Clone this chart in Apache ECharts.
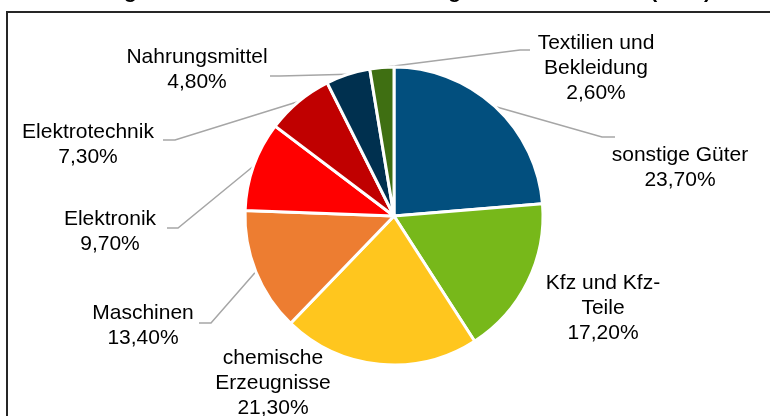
<!DOCTYPE html>
<html>
<head>
<meta charset="utf-8">
<script src="https://cdn.jsdelivr.net/npm/echarts@6/dist/echarts.min.js"></script>
<style>
html,body{margin:0;padding:0;background:#fff;}
#main{width:770px;height:416px;}
</style>
</head>
<body>
<div id="main"></div>
<script>
// Daten
var categories = ['sonstige Güter', 'Kfz und Kfz-\nTeile', 'chemische\nErzeugnisse', 'Maschinen',
	'Elektronik', 'Elektrotechnik', 'Nahrungsmittel', 'Textilien und\nBekleidung'];
var shares = [23.7, 17.2, 21.3, 13.4, 9.7, 7.3, 4.8, 2.6];
var colors = ['#024f7e', '#77b81a', '#ffc61e', '#ed7d31', '#ff0000', '#c00000', '#00304f', '#3f6f12'];

// Position der Beschriftungen (Mittelpunkt des Textblocks)
var labelPos = [[680, 168], [603, 308], [273, 383], [143, 326], [110, 232], [88, 145], [197, 70], [596, 68]];
// Knick- und Endpunkt der Führungslinien (null = keine Linie)
var linePts = [[[602, 137], [615, 137]], null, null, [[211, 323], [199, 323]],
	[[178, 228], [167, 228]], [[175, 140], [163, 140]], [[280, 76], [270, 76]], [[520, 50], [530, 50]]];

initPage();

function initPage(){
	var myChart = echarts.init(document.getElementById('main'));
	var data = [];
	for (var i = 0; i < categories.length; i++) {
		data.push({
			name: categories[i],
			value: shares[i],
			itemStyle: {color: colors[i]},
			labelLine: {show: linePts[i] != null}
		});
	}
	var option = {
		animation: false,
		title: {
			text: 'Abbildung 2: Ausfuhr deutscher Industriegüter nach Anteilen (2019)',
			left: 28,
			top: -23,
			textStyle: {fontFamily: 'Liberation Sans', fontSize: 21, fontWeight: 'bold', color: '#000'}
		},
		graphic: [{
			type: 'rect',
			z: 100,
			shape: {x: 7, y: 12, width: 775, height: 420},
			style: {fill: 'none', stroke: '#262626', lineWidth: 2}
		}],
		series: [{
			type: 'pie',
			center: [394, 216],
			radius: [0, 149],
			startAngle: 90,
			clockwise: true,
			itemStyle: {borderColor: '#fff', borderWidth: 3},
			label: {
				show: true,
				fontFamily: 'Liberation Sans',
				fontSize: 21,
				lineHeight: 25,
				color: '#000',
				align: 'center',
				formatter: function(p){
					return p.name + '\n' + p.value.toFixed(2).replace('.', ',') + '%';
				}
			},
			labelLine: {show: true, lineStyle: {color: '#a6a6a6', width: 1.5}},
			labelLayout: function(p){
				var pos = labelPos[p.dataIndex];
				var res = {x: pos[0], y: pos[1], align: 'center', verticalAlign: 'middle'};
				var pts = linePts[p.dataIndex];
				if (pts && p.labelLinePoints) {
					res.labelLinePoints = [p.labelLinePoints[0], pts[0], pts[1]];
				}
				return res;
			},
			data: data
		}]
	};
	myChart.setOption(option);
}
</script>
</body>
</html>
